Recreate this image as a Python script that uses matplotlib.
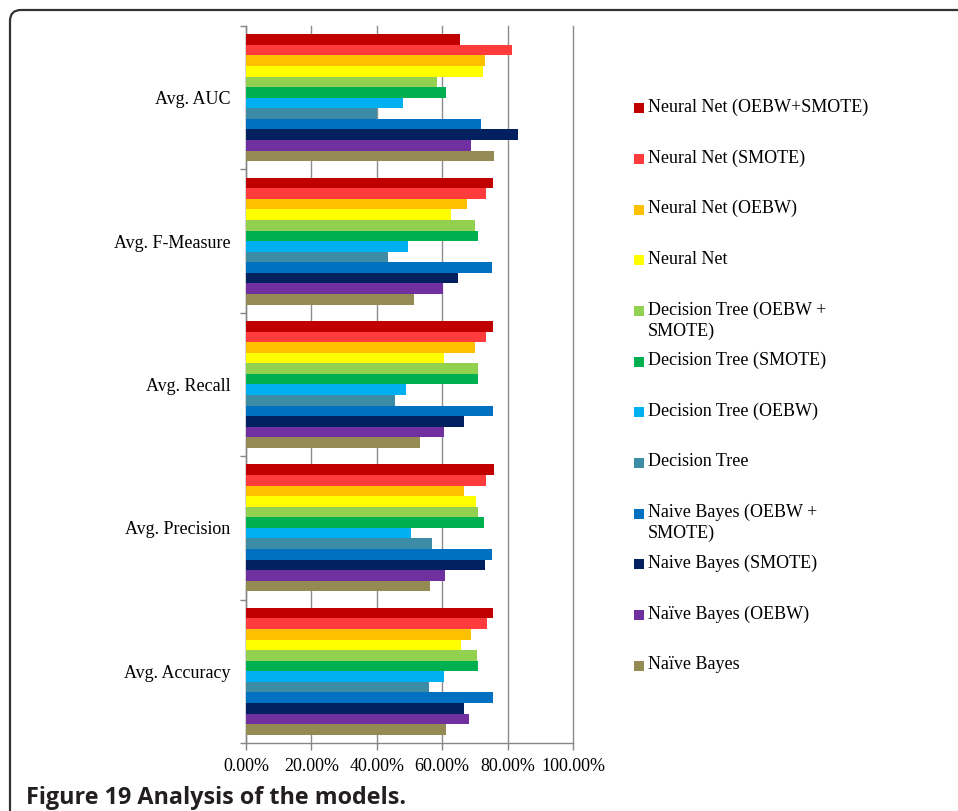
import matplotlib
matplotlib.use("Agg")
import matplotlib.pyplot as plt
from matplotlib.patches import FancyBboxPatch, Rectangle
import numpy as np

categories = ["Avg. AUC", "Avg. F-Measure", "Avg. Recall", "Avg. Precision", "Avg. Accuracy"]
series_names = [
    "Neural Net (OEBW+SMOTE)",
    "Neural Net (SMOTE)",
    "Neural Net (OEBW)",
    "Neural Net",
    "Decision Tree (OEBW +\nSMOTE)",
    "Decision Tree (SMOTE)",
    "Decision Tree (OEBW)",
    "Decision Tree",
    "Naive Bayes (OEBW +\nSMOTE)",
    "Naive Bayes (SMOTE)",
    "Naïve Bayes (OEBW)",
    "Naïve Bayes",
]
colors = ["#C00000", "#FF3B3B", "#FFC000", "#FFFF00", "#92D050", "#00B050",
          "#00B0F0", "#3C8CA5", "#0070C0", "#002060", "#7030A0", "#948A54"]

# values per series, order of categories: AUC, F-Measure, Recall, Precision, Accuracy
nn_oebw_smote = [0.654, 0.756, 0.755, 0.757, 0.754]
nn_smote      = [0.814, 0.735, 0.733, 0.735, 0.736]
nn_oebw       = [0.731, 0.676, 0.700, 0.666, 0.689]
nn            = [0.724, 0.626, 0.604, 0.702, 0.656]
dt_oebw_smote = [0.585, 0.701, 0.710, 0.710, 0.706]
dt_smote      = [0.611, 0.708, 0.711, 0.727, 0.711]
dt_oebw       = [0.480, 0.495, 0.490, 0.505, 0.606]
dt            = [0.402, 0.434, 0.457, 0.568, 0.561]
nb_oebw_smote = [0.718, 0.752, 0.756, 0.753, 0.754]
nb_smote      = [0.832, 0.647, 0.667, 0.730, 0.667]
nb_oebw       = [0.689, 0.603, 0.604, 0.609, 0.683]
nb            = [0.757, 0.515, 0.533, 0.564, 0.612]
series_values = [nn_oebw_smote, nn_smote, nn_oebw, nn, dt_oebw_smote, dt_smote,
                 dt_oebw, dt, nb_oebw_smote, nb_smote, nb_oebw, nb]
x_ticks = [0.0, 0.2, 0.4, 0.6, 0.8, 1.0]

W, H = 958, 811
fig = plt.figure(figsize=(W / 100, H / 100), dpi=100)
fig.patch.set_facecolor("white")

serif = ["Liberation Serif", "DejaVu Serif"]

ax = fig.add_axes([246 / W, 1 - 743 / H, (573 - 246) / W, (743 - 26) / H])
n = len(series_names)
h = 0.0739
ypos = np.arange(len(categories))
for j, (vals, c) in enumerate(zip(series_values, colors)):
    ax.barh(ypos + (j - (n - 1) / 2) * h, vals, height=h, color=c, zorder=3,
            edgecolor="none")

ax.set_xlim(0, 1)
ax.set_ylim(len(categories) - 0.5, -0.5)
ax.set_xticks(x_ticks)
ax.set_xticklabels([f"{v*100:.2f}%" for v in x_ticks], fontfamily=serif, fontsize=13)
ax.set_yticks(ypos)
ax.set_yticklabels(categories, fontfamily=serif, fontsize=13)
ax.set_yticks(np.arange(len(categories) + 1) - 0.5, minor=True)
ax.tick_params(axis="y", which="major", length=0, pad=11)
ax.tick_params(axis="y", which="minor", length=4, color="#868686", width=1)
ax.tick_params(axis="x", which="major", length=5, color="#868686", width=1, pad=6)
ax.grid(axis="x", color="#8C8C8C", linewidth=1, zorder=0)
for gl in ax.get_xgridlines():
    gl.set_clip_on(False)
ax.set_axisbelow(True)
for s in ["top", "right"]:
    ax.spines[s].set_visible(False)
for s in ["left", "bottom"]:
    ax.spines[s].set_color("#868686")
    ax.spines[s].set_linewidth(1)

# legend (manual, Excel-like layout)
first_y = 108.3
step = 50.67
for j, (name, c) in enumerate(zip(series_names, colors)):
    yc = first_y + j * step
    fig.add_artist(Rectangle((634 / W, 1 - (yc + 5) / H), 10 / W, 10 / H,
                             transform=fig.transFigure, facecolor=c, edgecolor="none"))
    fig.text(648 / W, 1 - (yc - 9.5) / H, name, fontfamily=serif, fontsize=13,
             va="top", ha="left", linespacing=1.28)

# frame
box = FancyBboxPatch((10, -30), 1000, 811 - 10 + 30,
                     boxstyle="round,pad=0,rounding_size=11",
                     transform=None, facecolor="none", edgecolor="#333333",
                     linewidth=1.6)
fig.add_artist(box)

fig.text(26 / W, 1 - 798 / H, "Figure 19 Analysis of the models.",
         fontfamily=["Open Sans", "DejaVu Sans"], fontweight="bold", fontsize=16.8,
         va="center", ha="left", color="#231F20")

fig.savefig("out.png", dpi=100)
